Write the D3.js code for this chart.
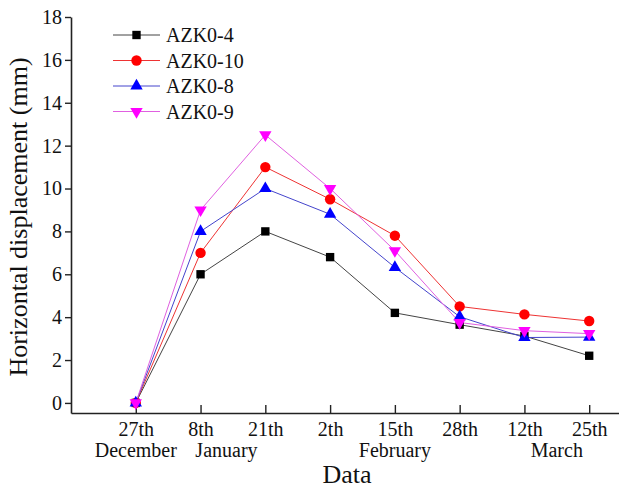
<!DOCTYPE html>
<html>
<head>
<meta charset="utf-8">
<script src="https://cdn.jsdelivr.net/npm/d3@7"></script>
<style>
  body { margin: 0; background: #fff; }
  text { font-family: "Liberation Serif", "Times New Roman", serif; fill: #111; }
</style>
</head>
<body>
<div id="chart"></div>
<script>
// chart size
const width = 619
const height = 492

// Data
const days = ["27th", "8th", "21th", "2th", "15th", "28th", "12th", "25th"]
const months = ["December", "January", "February", "March"]
const monthAt = [0, 1.4, 4, 6.5]   // category index each month label sits under
const yTicks = [0, 2, 4, 6, 8, 10, 12, 14, 16, 18]

const azk04 = [0, 6, 8, 6.8, 4.2, 3.65, 3.12, 2.2]
const azk010 = [0, 7, 11, 9.5, 7.8, 4.5, 4.13, 3.82]
const azk08 = [0, 8, 10, 8.8, 6.32, 4.02, 3.05, 3.07]
const azk09 = [0, 9, 12.5, 10, 7.1, 3.75, 3.37, 3.23]

const series = [
  { name: "AZK0-4", values: azk04, color: "#000000", line: "#444", shape: d3.symbolSquare, size: 70, rot: 0 },
  { name: "AZK0-10", values: azk010, color: "#ff0000", line: "#e33", shape: d3.symbolCircle, size: 85, rot: 0 },
  { name: "AZK0-8", values: azk08, color: "#0000ff", line: "#44c", shape: d3.symbolTriangle, size: 66, rot: 0 },
  { name: "AZK0-9", values: azk09, color: "#ff00ff", line: "#e060e0", shape: d3.symbolTriangle, size: 66, rot: 180 }
]

var svg = d3.select("#chart")
  .append("svg")
  .attr("width", width)
  .attr("height", height)

// scales
var x = d3.scaleLinear()
  .domain([-1, 7.46])
  .range([71, 619])

var y = d3.scaleLinear()
  .domain([-0.47, 18])
  .range([413, 17])

// y axis (ticks outside)
var yAxis = svg.append("g")
  .attr("transform", "translate(71,0)")
  .call(d3.axisLeft(y).tickValues(yTicks).tickSize(6).tickSizeOuter(0).tickPadding(3))
yAxis.select(".domain").attr("stroke", "#222").attr("stroke-width", 1.6)
yAxis.selectAll(".tick line").attr("stroke", "#222").attr("stroke-width", 1.4)
yAxis.selectAll(".tick text").style("font-size", "20px").style("font-family", "Liberation Serif").attr("fill", "#111")

// x axis (ticks inside)
var xAxis = svg.append("g")
  .attr("transform", "translate(0,413)")
  .call(d3.axisBottom(x).tickValues(d3.range(days.length)).tickFormat(function(i){ return days[i] })
    .tickSizeInner(-8).tickSizeOuter(0).tickPadding(9))
xAxis.select(".domain").attr("stroke", "#222").attr("stroke-width", 1.6)
xAxis.selectAll(".tick line").attr("stroke", "#222").attr("stroke-width", 1.4)
xAxis.selectAll(".tick text").style("font-size", "20px").style("font-family", "Liberation Serif").attr("fill", "#111")

// month labels under the day labels
svg.append("g")
  .selectAll("text")
  .data(months)
  .enter().append("text")
    .attr("x", function(d, i){ return x(monthAt[i]) })
    .attr("y", 457)
    .attr("text-anchor", "middle")
    .style("font-size", "20px")
    .text(function(d){ return d })

// axis titles
svg.append("text")
  .attr("transform", "translate(27,217) rotate(-90)")
  .attr("text-anchor", "middle")
  .style("font-size", "26px")
  .text("Horizontal displacement (mm)")

svg.append("text")
  .attr("x", 347)
  .attr("y", 483)
  .attr("text-anchor", "middle")
  .style("font-size", "26px")
  .text("Data")

// lines + markers
var line = d3.line()
  .x(function(d, i){ return x(i) })
  .y(function(d){ return y(d) })

series.forEach(function(s) {
  svg.append("path")
    .datum(s.values)
    .attr("fill", "none")
    .attr("stroke", s.line)
    .attr("stroke-width", 1)
    .attr("d", line)
})

series.forEach(function(s) {
  svg.append("g")
    .selectAll("path")
    .data(s.values)
    .enter().append("path")
      .attr("d", d3.symbol().type(s.shape).size(s.size))
      .attr("transform", function(d, i){ return "translate(" + x(i) + "," + y(d) + ") rotate(" + s.rot + ")" })
      .attr("fill", s.color)
})

// legend
var legend = svg.append("g")
  .selectAll("g")
  .data(series)
  .enter().append("g")
    .attr("transform", function(d, i){ return "translate(113," + (35 + i * 25.5) + ")" })

legend.append("line")
  .attr("x1", 0).attr("x2", 47)
  .attr("stroke", function(d){ return d.line })
  .attr("stroke-width", 1)

legend.append("path")
  .attr("d", function(d){ return d3.symbol().type(d.shape).size(d.size)() })
  .attr("transform", function(d){ return "translate(23.5,0) rotate(" + d.rot + ")" })
  .attr("fill", function(d){ return d.color })

legend.append("text")
  .attr("x", 53)
  .attr("y", 7)
  .style("font-size", "20px")
  .text(function(d){ return d.name })
</script>
</body>
</html>
